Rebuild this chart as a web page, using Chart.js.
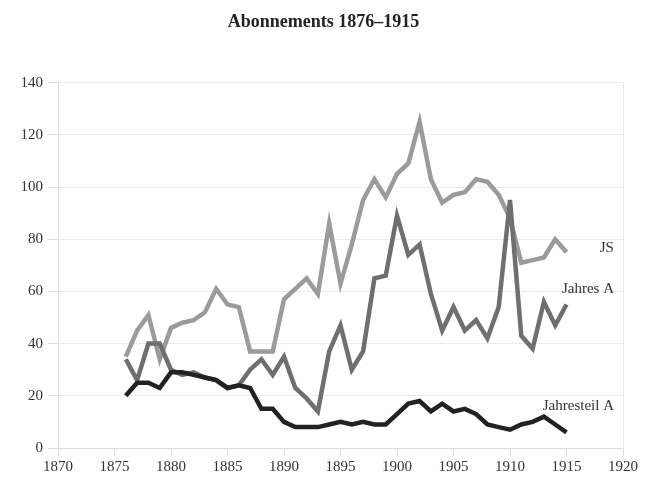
<!DOCTYPE html>
<html>
<head>
<meta charset="utf-8">
<script src="https://cdn.jsdelivr.net/npm/chart.js@4/dist/chart.umd.min.js"></script>
<style>
  html, body { margin: 0; padding: 0; background: #ffffff; }
  #wrap { width: 647px; height: 478px; }
</style>
</head>
<body>
<div id="wrap"><canvas id="c" width="647" height="478"></canvas></div>
<script>
const years = [1876,1877,1878,1879,1880,1881,1882,1883,1884,1885,1886,1887,1888,1889,1890,1891,1892,1893,1894,1895,1896,1897,1898,1899,1900,1901,1902,1903,1904,1905,1906,1907,1908,1909,1910,1911,1912,1913,1914,1915];
const js = [35,45,51,34,46,48,49,52,61,55,54,37,37,37,57,61,65,59,86,63,78,95,103,96,105,109,125,103,94,97,98,103,102,97,88,71,72,73,80,75];
const jahresA = [34,26,40,40,30,28,29,27,26,23,24,30,34,28,35,23,19,14,37,47,30,37,65,66,89,74,78,59,45,54,45,49,42,54,95,43,38,56,47,55];
const jahresteilA = [20,25,25,23,29,29,28,27,26,23,24,23,15,15,10,8,8,8,9,10,9,10,9,9,13,17,18,14,17,14,15,13,9,8,7,9,10,12,9,6];
const seriesNames = ["JS", "Jahres A", "Jahresteil A"];
const xTicks = [1870, 1920, 5];
const yTicks = [0, 140, 20];

const FONT = "'Liberation Serif', 'DejaVu Serif', serif";
const colors = ["#9b9b9b", "#6f6f6f", "#222222"];
const drawOrder = [2, 1, 0]; // lower = drawn on top
const seriesData = [js, jahresA, jahresteilA];

// end labels: anchored in data space (x year, y value), right-aligned
const endLabels = [
  { text: seriesNames[0], x: 1919.2, y: 76.5 },
  { text: seriesNames[1], x: 1919.2, y: 61 },
  { text: seriesNames[2], x: 1919.2, y: 16 }
];

const labelPlugin = {
  id: 'endLabels',
  afterDatasetsDraw(chart) {
    const ctx = chart.ctx;
    const xs = chart.scales.x, ys = chart.scales.y;
    ctx.save();
    ctx.font = "15px " + FONT;
    ctx.fillStyle = "#333333";
    ctx.textAlign = "right";
    ctx.textBaseline = "middle";
    endLabels.forEach(l => {
      ctx.fillText(l.text, xs.getPixelForValue(l.x), ys.getPixelForValue(l.y));
    });
    ctx.restore();
  }
};

new Chart(document.getElementById('c'), {
  type: 'line',
  data: {
    datasets: seriesData.map((arr, i) => ({
      label: seriesNames[i],
      data: years.map((y, k) => ({ x: y, y: arr[k] })),
      borderColor: colors[i],
      backgroundColor: colors[i],
      borderWidth: 4.5,
      pointRadius: 0,
      tension: 0,
      fill: false,
      borderJoinStyle: 'miter',
      order: drawOrder[i]
    }))
  },
  options: {
    responsive: false,
    animation: false,
    layout: { padding: { left: 0, right: 0, top: 0, bottom: 0 } },
    plugins: {
      legend: { display: false },
      tooltip: { enabled: false },
      title: {
        display: true,
        text: "Abonnements 1876–1915",
        color: "#222222",
        font: { family: FONT, size: 18, weight: 'bold' },
        padding: { top: 12, bottom: 49 }
      }
    },
    scales: {
      x: {
        type: 'linear',
        min: xTicks[0], max: xTicks[1],
        ticks: {
          stepSize: xTicks[2],
          color: "#333333",
          font: { family: FONT, size: 15 },
          padding: 2,
          maxRotation: 0,
          callback: v => String(v)
        },
        grid: {
          drawOnChartArea: true,
          color: c => (c.tick && c.tick.value === xTicks[1]) ? "#e6e6e6" : "rgba(0,0,0,0)",
          tickColor: "#dddddd",
          tickLength: 8,
          lineWidth: 1
        },
        border: { display: true, color: "#dddddd" },
        afterFit: s => { s.height = 30; }
      },
      y: {
        min: yTicks[0], max: yTicks[1],
        ticks: {
          stepSize: yTicks[2],
          color: "#333333",
          font: { family: FONT, size: 15 },
          padding: 5
        },
        grid: {
          color: "#ececec",
          tickColor: "#dddddd",
          tickLength: 10,
          lineWidth: 1
        },
        border: { display: true, color: "#e0e0e0" },
        afterFit: s => { s.width = 58; }
      },
      yRight: {
        position: 'right',
        min: yTicks[0], max: yTicks[1],
        ticks: { display: false },
        grid: { display: false },
        border: { display: false },
        afterFit: s => { s.width = 24; }
      }
    }
  },
  plugins: [labelPlugin]
});
</script>
</body>
</html>
